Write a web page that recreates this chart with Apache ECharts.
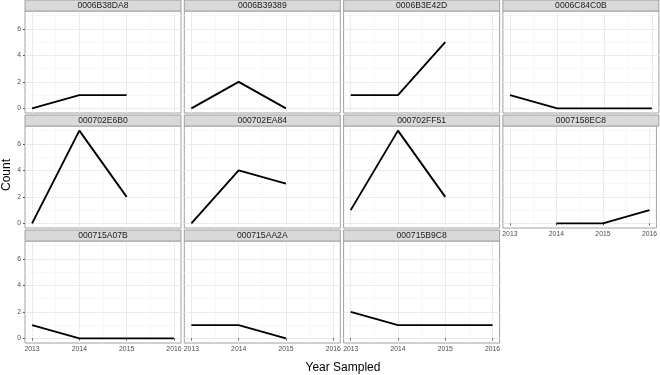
<!DOCTYPE html>
<html>
<head>
<meta charset="utf-8">
<script src="https://cdn.jsdelivr.net/npm/echarts@6/dist/echarts.min.js"></script>
<style>
  html, body { margin: 0; padding: 0; background: #fff; }
  #chart { width: 660px; height: 375px; }
</style>
</head>
<body>
<div id="chart"></div>
<script>
// Données
const years = [2013, 2014, 2015, 2016];
const panelIds = ['0006B38DA8', '0006B39389', '0006B3E42D', '0006C84C0B',
                  '000702E6B0', '000702EA84', '000702FF51', '0007158EC8',
                  '000715A07B', '000715AA2A', '000715B9C8'];
const panelCounts = [
    [0, 1, 1, null],
    [0, 2, 0, null],
    [1, 1, 5, null],
    [1, 0, 0, 0],
    [0, 7, 2, null],
    [0, 4, 3, null],
    [1, 7, 2, null],
    [null, 0, 0, 1],
    [1, 0, 0, 0],
    [1, 1, 0, null],
    [2, 1, 1, 1]
];
const yTicks = [0, 2, 4, 6];
const yMinorTicks = [1, 3, 5, 7];
const xMinorTicks = [2013.5, 2014.5, 2015.5];

const FONT = 'Liberation Sans';
const chart = echarts.init(document.getElementById('chart'), null, { renderer: 'canvas' });

const n = panelIds.length;
const colPitch = 159.3, rowPitch = 115;
const panelW = 156, panelH = 102, stripH = 11;

const grids = [], xAxes = [], yAxes = [], series = [], graphics = [];

for (let i = 0; i < n; i++) {
    const row = Math.floor(i / 4), col = i % 4;
    const left = 25 + col * colPitch;
    const top = 11 + row * rowPitch;
    grids.push({
        left: left, top: top, width: panelW, height: panelH,
        show: true, backgroundColor: '#fff', borderColor: '#a0a0a0', borderWidth: 1
    });
    const showX = row === 2 || i === 7;
    const showY = col === 0;
    xAxes.push({
        type: 'value', gridIndex: i, min: 2012.85, max: 2016.15,
        axisLine: { show: false },
        axisTick: { show: showX, length: 2, lineStyle: { color: '#555' }, customValues: years },
        axisLabel: { show: showX, customValues: years, fontSize: 6.8, color: '#4d4d4d',
                     fontFamily: FONT, margin: 3, formatter: v => String(v) },
        splitLine: { show: true, lineStyle: { color: '#ebebeb', width: 1 }, customValues: years }
    });
    yAxes.push({
        type: 'value', gridIndex: i, min: -0.35, max: 7.35,
        axisLine: { show: false },
        axisTick: { show: showY, length: 2, lineStyle: { color: '#555' }, customValues: yTicks },
        axisLabel: { show: showY, customValues: yTicks, fontSize: 6.8, color: '#4d4d4d',
                     fontFamily: FONT, margin: 4 },
        splitLine: { show: true, lineStyle: { color: '#ebebeb', width: 1 }, customValues: yTicks }
    });
    const data = [];
    panelCounts[i].forEach((v, k) => { if (v !== null) data.push([years[k], v]); });
    series.push({
        type: 'line', xAxisIndex: i, yAxisIndex: i, data: data,
        symbol: 'none', silent: true, animation: false,
        lineStyle: { color: '#000', width: 1.9 }, z: 5
    });
    // bandeau du panneau
    graphics.push({
        type: 'rect', shape: { x: left, y: top - stripH, width: panelW, height: stripH },
        style: { fill: '#d9d9d9', stroke: '#a0a0a0', lineWidth: 1 }, z: 10
    });
    graphics.push({
        type: 'text', x: left + panelW / 2, y: top - stripH / 2,
        style: { text: panelIds[i], fill: '#1a1a1a', font: '8.6px ' + FONT,
                 textAlign: 'center', textVerticalAlign: 'middle' }, z: 11
    });
}

// lignes secondaires (minor grid)
for (let i = 0; i < n; i++) {
    xAxes.push({
        type: 'value', gridIndex: i, min: 2012.85, max: 2016.15,
        axisLine: { show: false }, axisLabel: { show: false },
        axisTick: { show: false, customValues: xMinorTicks },
        splitLine: { show: true, lineStyle: { color: '#f2f2f2', width: 0.6 }, customValues: xMinorTicks }
    });
    yAxes.push({
        type: 'value', gridIndex: i, min: -0.35, max: 7.35,
        axisLine: { show: false }, axisLabel: { show: false },
        axisTick: { show: false, customValues: yMinorTicks },
        splitLine: { show: true, lineStyle: { color: '#f2f2f2', width: 0.6 }, customValues: yMinorTicks }
    });
}

graphics.push({
    type: 'text', x: 343, y: 368,
    style: { text: 'Year Sampled', fill: '#000', font: '12px ' + FONT,
             textAlign: 'center', textVerticalAlign: 'middle' }
});
graphics.push({
    type: 'text', x: 7, y: 175, rotation: Math.PI / 2,
    style: { text: 'Count', fill: '#000', font: '12px ' + FONT,
             textAlign: 'center', textVerticalAlign: 'middle' }
});

const option = {
    animation: false,
    grid: grids,
    xAxis: xAxes,
    yAxis: yAxes,
    series: series,
    graphic: graphics
};
chart.setOption(option);
</script>
</body>
</html>
